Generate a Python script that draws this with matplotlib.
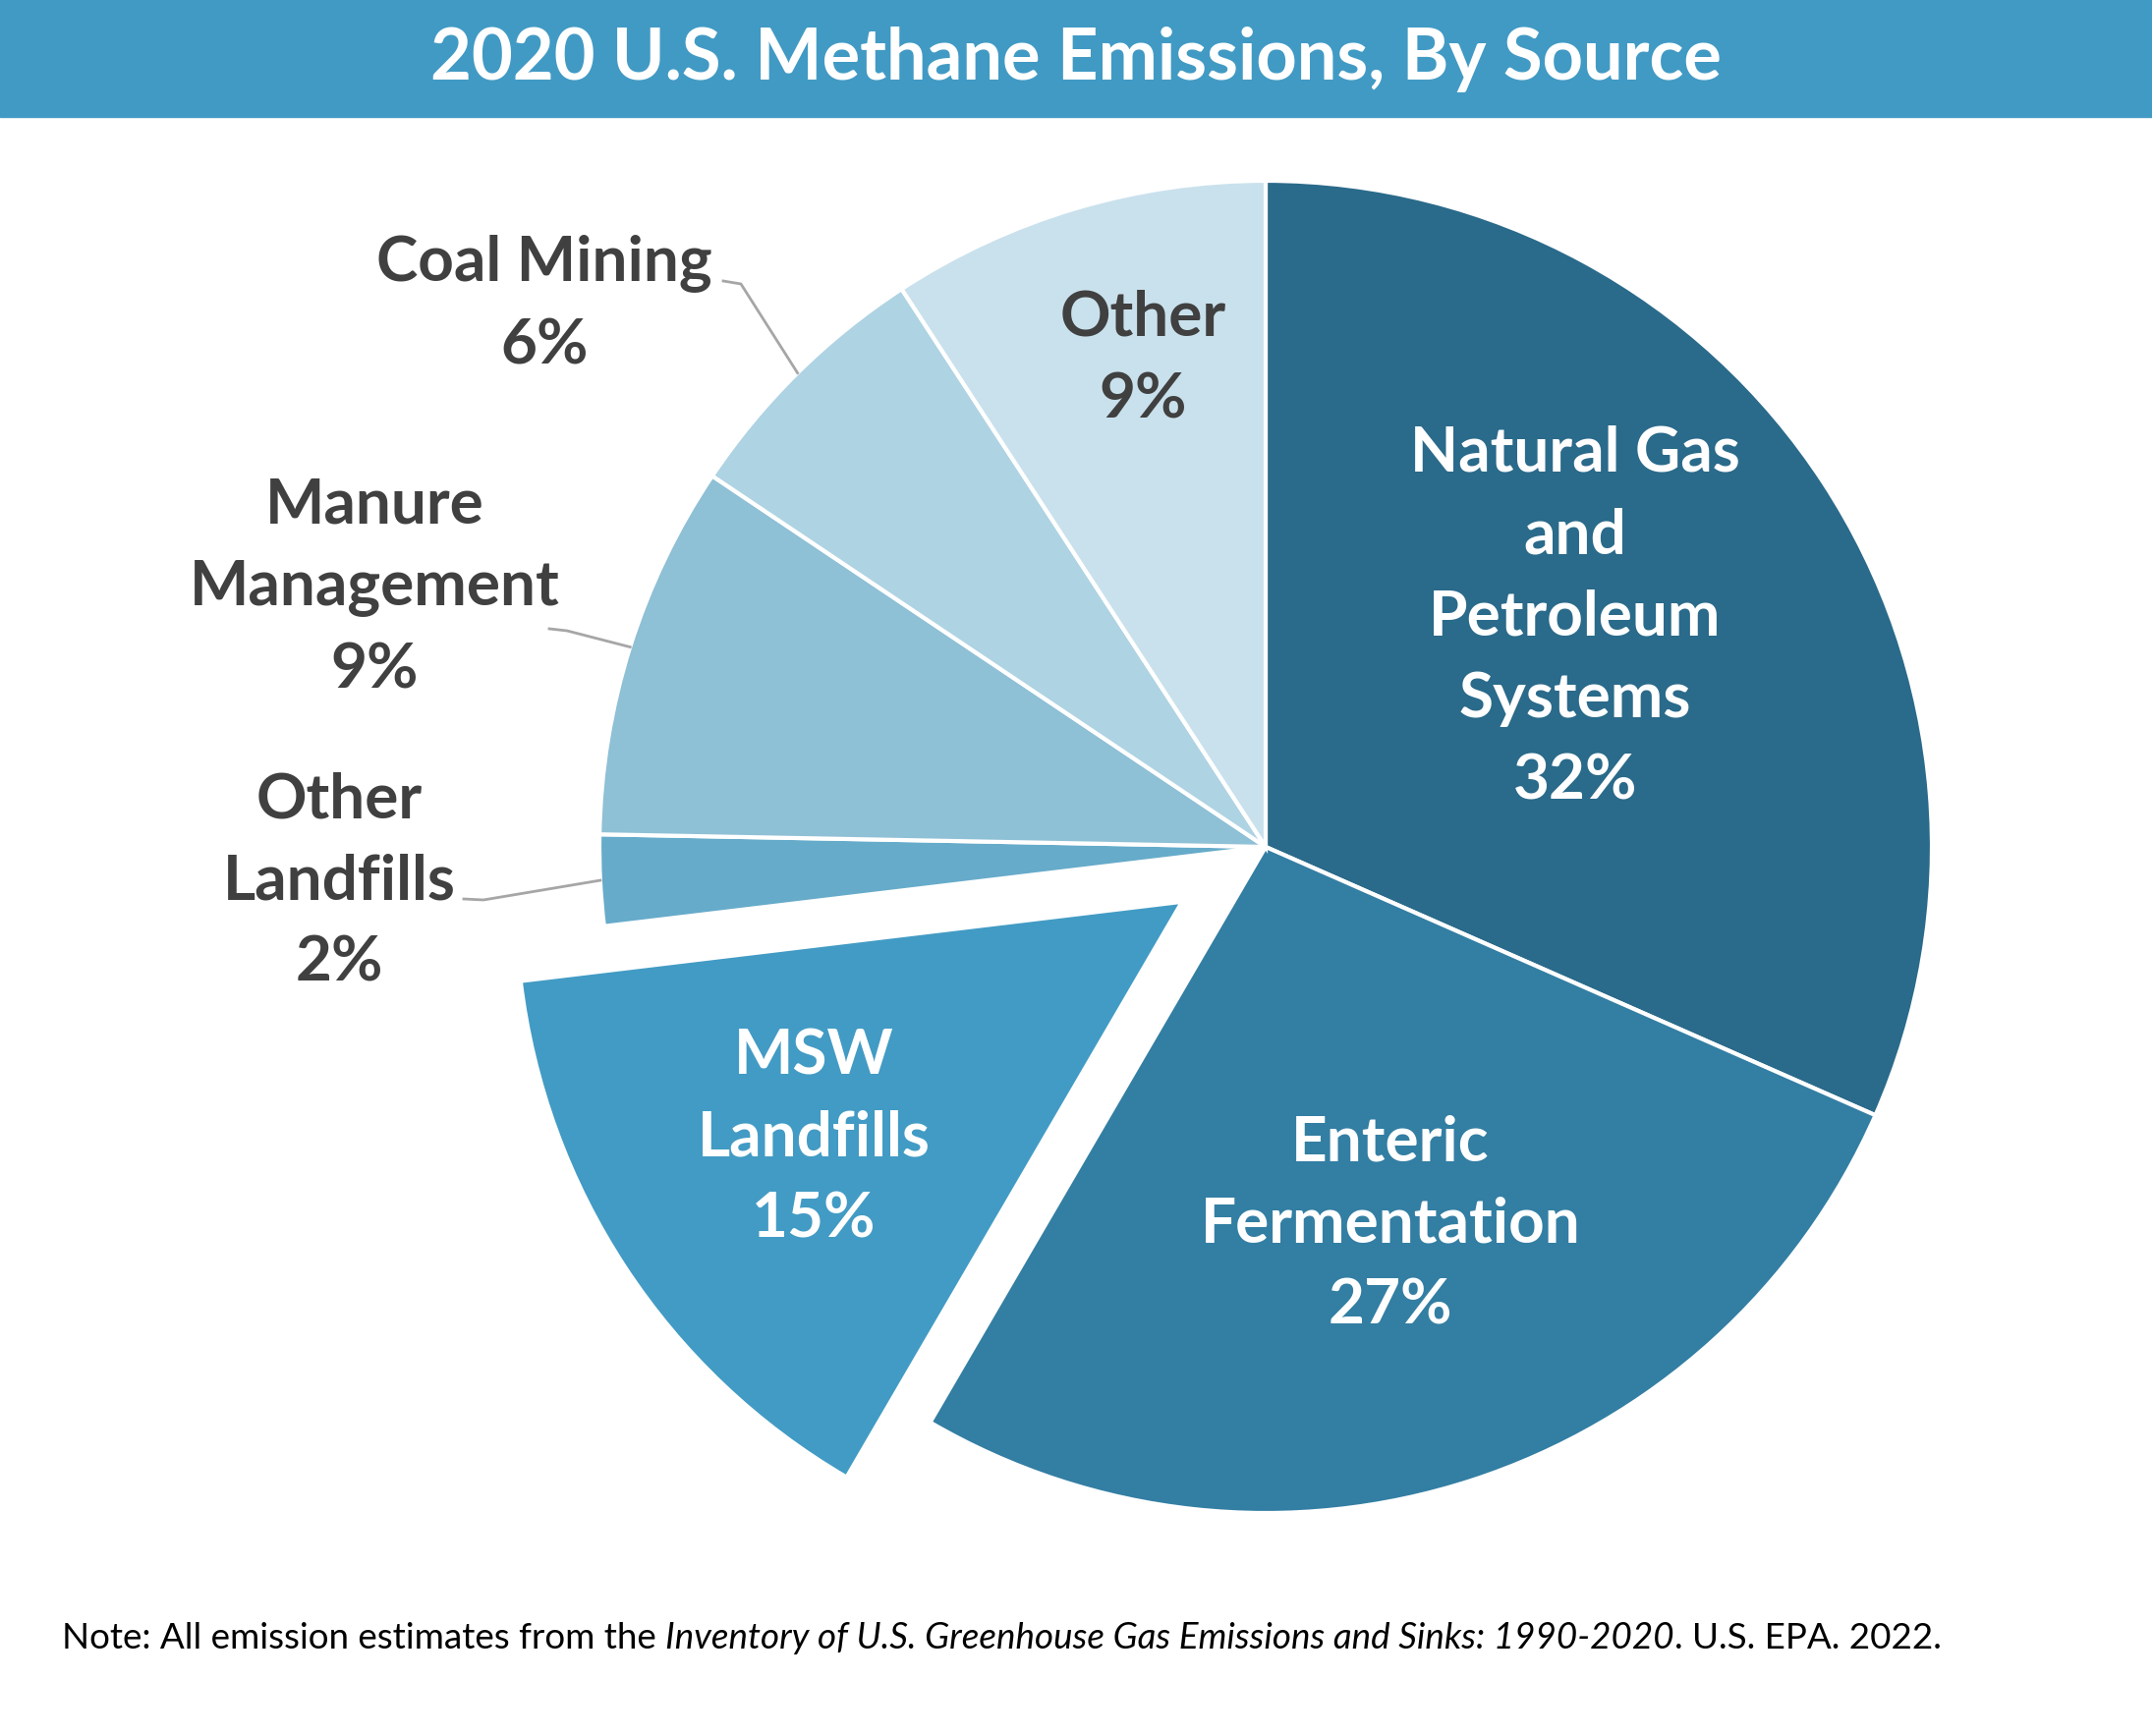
import numpy as np
import matplotlib.pyplot as plt
from matplotlib.lines import Line2D

# 数据 (顺时针, 从12点方向开始)
sources = ["Natural Gas\nand\nPetroleum\nSystems", "Enteric\nFermentation",
           "MSW\nLandfills", "Other\nLandfills", "Manure\nManagement",
           "Coal Mining", "Other"]
shares = [31.6, 26.8, 14.7, 2.2, 9.1, 6.4, 9.2]
colors = ["#2a6a8a", "#337ea3", "#429bc4", "#66abca", "#8ec0d6", "#aed3e3", "#c9e1ec"]
explode = [0, 0, 0.15, 0, 0, 0, 0]

W, H = 2190, 1767
cx, cy, R = 1288, 862, 678   # 像素坐标 (y 向下)

fig = plt.figure(figsize=(W / 100, H / 100), dpi=100)
fig.patch.set_facecolor("white")

def fx(x): return x / W
def fy(y): return 1 - y / H

# 标题栏
fig.patches.append(plt.Rectangle((0, fy(119)), 1, 119 / H, transform=fig.transFigure,
                                 color="#419ac4", zorder=0))
fig.text(fx(1095), fy(60), "2020 U.S. Methane Emissions, By Source", color="white",
         fontsize=52, fontweight="bold", family="Lato", ha="center", va="center")

ax = fig.add_axes([0, 0, 1, 1])
wedges, _ = ax.pie(shares, colors=colors, startangle=90, counterclock=False,
                   explode=explode, radius=1,
                   wedgeprops=dict(edgecolor="white", linewidth=3))
ax.set_xlim(-cx / R, (W - cx) / R)
ax.set_ylim(-(H - cy) / R, cy / R)
ax.set_aspect("equal")
ax.axis("off")

# 标签 (中心位置, 像素)
label_pos = [(1603, 628), (1415, 1246), (828, 1158), (345, 897),
             (381, 598), (554, 309), (1163, 365)]
label_col = ["white", "white", "white", "#404040", "#404040", "#404040", "#404040"]
for name, v, (x, y), c in zip(sources, shares, label_pos, label_col):
    fig.text(fx(x), fy(y), f"{name}\n{round(v)}%", color=c, fontsize=46,
             fontweight="bold", family="Lato", ha="center", va="center",
             linespacing=1.56, zorder=5)

# 引导线: 从标签折点到扇形外缘中点
elbows = {5: [(736, 286), (754, 289)], 4: [(559, 640), (577, 642)],
          3: [(472, 915), (492, 916)]}
for i, pts in elbows.items():
    w = wedges[i]
    tm = np.deg2rad((w.theta1 + w.theta2) / 2)
    ex = cx + R * np.cos(tm)
    ey = cy - R * np.sin(tm)
    xs = [fx(p[0]) for p in pts] + [fx(ex)]
    ys = [fy(p[1]) for p in pts] + [fy(ey)]
    fig.add_artist(Line2D(xs, ys, color="#a6a6a6", lw=2, transform=fig.transFigure))

# 注释 (含斜体部分)
parts = [("Note: All emission estimates from the ", "normal"),
         ("Inventory of U.S. Greenhouse Gas Emissions and Sinks: 1990-2020", "italic"),
         (". U.S. EPA. 2022.", "normal")]
r = fig.canvas.get_renderer()
x0 = 63
for s, st in parts:
    t = fig.text(fx(x0), fy(1667), s, fontsize=26.5, family="Lato", style=st,
                 color="black", ha="left", va="center")
    bb = t.get_window_extent(renderer=r)
    x0 += bb.width

fig.savefig("out.png", dpi=100, facecolor="white")
